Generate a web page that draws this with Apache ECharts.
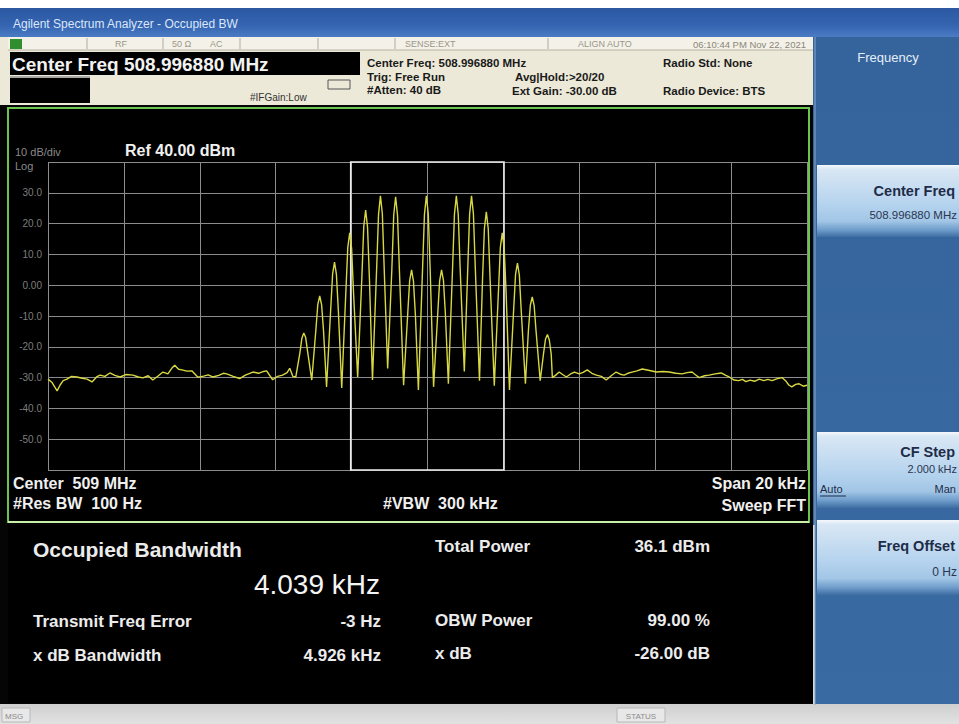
<!DOCTYPE html>
<html><head><meta charset="utf-8">
<script src="https://cdn.jsdelivr.net/npm/echarts@6/dist/echarts.min.js"></script>
<style>html,body{margin:0;padding:0;background:#fff;}#c{width:959px;height:724px;}</style>
</head><body><div id="c"></div>
<script>
// ---- data (frequency offset from centre in kHz, level in dBm) ----
const spanKHz = [-10, 10];
const freqTickKHz = 2;
const levelRangeDbm = [-60, 40];
const levelTickDb = 10;
const obwEdgesKHz = [-2.023, 2.016];

const noiseLeft = [
  [-10.0,-30.5],[-9.9,-31.5],[-9.76,-34.3],[-9.68,-32.4],[-9.6,-31.0],[-9.5,-30.5],[-9.38,-29.6],
  [-9.24,-29.8],[-9.1,-30.2],[-8.97,-30.5],[-8.84,-31.4],[-8.72,-29.8],[-8.63,-29.2],[-8.5,-29.6],
  [-8.37,-28.5],[-8.24,-29.3],[-8.1,-29.8],[-7.95,-29.0],[-7.76,-29.2],[-7.62,-29.8],[-7.5,-30.1],
  [-7.36,-29.4],[-7.24,-30.8],[-7.1,-29.5],[-6.97,-28.2],[-6.84,-28.8],[-6.74,-27.0],[-6.66,-26.0],
  [-6.56,-27.3],[-6.47,-27.5],[-6.34,-27.9],[-6.21,-27.8],[-6.05,-29.9],[-5.9,-29.5],[-5.78,-29.1],
  [-5.66,-29.8],[-5.5,-29.3],[-5.38,-28.6],[-5.29,-28.8],[-5.12,-29.6],[-4.95,-30.3],[-4.8,-29.2],
  [-4.6,-28.2],[-4.45,-28.6],[-4.32,-28.0],[-4.24,-27.8],[-4.08,-30.7],[-3.95,-29.6],[-3.82,-29.2],
  [-3.7,-28.4],[-3.63,-27.0],[-3.55,-29.6],[-3.47,-29.8]
];
const signalBand = [
  [-3.36,-21.8],[-3.31,-17.2],[-3.26,-15.5],[-3.21,-17.0],[-3.16,-21.5],[-3.05,-30.8],
  [-2.94,-14.3],[-2.89,-6.2],[-2.84,-3.5],[-2.79,-6.4],[-2.74,-14.8],[-2.66,-33.0],
  [-2.55,-7.7],[-2.50,3.7],[-2.45,7.5],[-2.40,3.5],[-2.35,-8.0],[-2.26,-33.4],
  [-2.15,-1.8],[-2.10,12.3],[-2.05,17.0],[-2.00,12.0],[-1.95,-2.2],[-1.84,-29.8],
  [-1.73,2.4],[-1.68,19.0],[-1.63,24.4],[-1.58,18.8],[-1.53,2.0],[-1.45,-30.8],
  [-1.34,5.4],[-1.29,23.0],[-1.24,29.0],[-1.19,23.2],[-1.14,5.0],[-1.05,-27.0],
  [-0.94,5.0],[-0.89,22.8],[-0.84,28.7],[-0.79,22.6],[-0.74,4.8],[-0.63,-32.5],
  [-0.52,-9.0],[-0.47,1.5],[-0.42,5.0],[-0.37,1.3],[-0.32,-9.4],[-0.24,-34.0],
  [-0.13,5.4],[-0.08,23.0],[-0.03,29.0],[0.02,23.2],[0.07,5.2],[0.16,-33.0],
  [0.27,-9.2],[0.32,1.4],[0.37,5.0],[0.42,1.6],[0.47,-9.0],[0.55,-32.0],
  [0.66,5.4],[0.71,23.0],[0.76,29.0],[0.81,23.0],[0.86,5.6],[0.97,-28.0],
  [1.06,5.2],[1.11,23.0],[1.16,29.0],[1.21,23.1],[1.26,5.4],[1.37,-31.0],
  [1.45,2.0],[1.50,18.5],[1.55,23.8],[1.60,18.4],[1.65,1.8],[1.76,-32.6],
  [1.87,-1.8],[1.92,12.3],[1.97,17.0],[2.02,12.1],[2.07,-2.0],[2.16,-34.0],
  [2.27,-8.0],[2.32,3.5],[2.37,7.2],[2.42,3.3],[2.47,-8.3],[2.58,-32.0],
  [2.66,-14.5],[2.71,-6.5],[2.76,-3.8],[2.81,-6.6],[2.86,-14.8],[2.97,-31.0],
  [3.06,-22.0],[3.11,-17.5],[3.16,-16.0],[3.21,-17.8],[3.26,-22.4],[3.29,-30.0]
];
const noiseRight = [
  [3.38,-29.2],[3.47,-28.2],[3.56,-29.0],[3.66,-29.8],[3.76,-28.9],[3.87,-28.2],[4.0,-28.8],
  [4.1,-28.3],[4.21,-27.5],[4.33,-28.6],[4.45,-29.2],[4.58,-29.6],[4.71,-30.8],[4.84,-29.4],
  [4.97,-28.2],[5.08,-28.9],[5.18,-29.2],[5.28,-28.6],[5.39,-28.2],[5.52,-27.8],[5.66,-27.2],
  [5.82,-27.6],[6.03,-28.2],[6.2,-28.0],[6.37,-28.2],[6.54,-28.6],[6.71,-28.8],[6.84,-28.4],
  [6.97,-28.2],[7.05,-29.0],[7.16,-30.0],[7.3,-29.4],[7.42,-29.2],[7.58,-28.8],[7.74,-28.5],
  [7.86,-29.3],[7.95,-29.8],[8.08,-30.8],[8.2,-31.0],[8.3,-30.6],[8.39,-31.3],[8.5,-30.8],
  [8.62,-31.2],[8.74,-30.5],[8.86,-31.0],[8.97,-30.6],[9.08,-31.0],[9.2,-30.4],[9.34,-30.0],
  [9.45,-31.2],[9.52,-32.4],[9.6,-33.0],[9.7,-32.2],[9.79,-32.0],[9.9,-32.8],[10.0,-32.5]
];
const trace = noiseLeft.concat(signalBand, noiseRight);

// ---- drawing ----
const F = '"Liberation Sans", Arial, Helvetica, sans-serif';
function R(x, y, w, h, fill, extra) {
  return Object.assign({ type: 'rect', silent: true, z: -100, shape: { x: x, y: y, width: w, height: h }, style: { fill: fill } }, extra || {});
}
function T(x, y, t, size, color, o) {
  o = o || {};
  return { type: 'text', silent: true, z: 100, x: x, y: y,
    style: { text: t, fill: color, font: (o.w || 'normal') + ' ' + size + 'px ' + F,
      align: o.a || 'left', verticalAlign: 'middle' } };
}
function L(x1, y1, x2, y2, c, w, z) {
  return { type: 'line', silent: true, z: z == null ? -90 : z, shape: { x1: x1, y1: y1, x2: x2, y2: y2 }, style: { stroke: c, lineWidth: w || 1 } };
}
function grad(stops) {
  return new echarts.graphic.LinearGradient(0, 0, 0, 1, stops.map(function (s) { return { offset: s[0], color: s[1] }; }));
}
const btnFill = function () {
  return grad([[0, '#f4f8fc'], [0.06, '#d9e7f4'], [0.55, '#b5d3ee'], [0.78, '#a2c6e6'], [0.9, '#6f9dcb'], [1, '#3e6da3']]);
};

const g = [
  R(0, 8, 959, 29, grad([[0, '#2c58a2'], [0.6, '#3564b0'], [1, '#4a7cc4']])),
  T(13, 24, 'Agilent Spectrum Analyzer - Occupied BW', 12, '#dce6fa'),
  R(0, 37, 813, 71, '#ece9d8'),
  R(8, 37, 805, 13, '#f3f1e8'),
  L(8, 50, 813, 50, '#b8b4a4', 1),
  R(10, 39, 12, 10, '#2f8f2f', { z: -80 }),
  L(87, 38, 87, 49, '#b0ac9c'), L(163, 38, 163, 49, '#b0ac9c'), L(240, 38, 240, 49, '#b0ac9c'),
  L(318, 38, 318, 49, '#b0ac9c'), L(395, 38, 395, 49, '#b0ac9c'), L(548, 38, 548, 49, '#b0ac9c'),
  T(115, 44, 'RF', 9, '#9a9688'), T(172, 44, '50 Ω', 9, '#9a9688'), T(210, 44, 'AC', 9, '#9a9688'),
  T(405, 44, 'SENSE:EXT', 9, '#9a9688'), T(578, 44, 'ALIGN AUTO', 9, '#9a9688'),
  T(806, 44, '06:10:44 PM Nov 22, 2021', 9.5, '#8a8678', { a: 'right' }),
  R(10, 52, 350, 23, '#000'),
  T(12, 64, 'Center Freq 508.996880 MHz', 19, '#f2f2f2', { w: 'bold' }),
  R(10, 76, 80, 2, '#a8a8a8', { z: -80 }),
  R(10, 78, 80, 25, '#000', { z: -80 }),
  T(250, 97, '#IFGain:Low', 10, '#333'),
  R(328, 80, 22, 9, '#ece9d8', { z: -80, style: { fill: '#ece9d8', stroke: '#555', lineWidth: 1 } }),
  T(367, 63, 'Center Freq: 508.996880 MHz', 11.5, '#1a1a1a', { w: 'bold' }),
  T(367, 77, 'Trig: Free Run', 11.5, '#1a1a1a', { w: 'bold' }),
  T(367, 90, '#Atten: 40 dB', 11.5, '#1a1a1a', { w: 'bold' }),
  T(515, 77, 'Avg|Hold:>20/20', 11.5, '#1a1a1a', { w: 'bold' }),
  T(512, 91, 'Ext Gain: -30.00 dB', 11.5, '#1a1a1a', { w: 'bold' }),
  T(663, 63, 'Radio Std: None', 11.5, '#1a1a1a', { w: 'bold' }),
  T(663, 91, 'Radio Device: BTS', 11.5, '#1a1a1a', { w: 'bold' }),
  // plot panel
  R(0, 105, 813, 600, '#050505'),
  R(8, 108, 801, 414, '#000', { style: { fill: '#000', stroke: '#6cc44e', lineWidth: 2 } }),
  L(8, 522, 809, 522, '#c8f0a8', 2, -80),
  T(15, 152, '10 dB/div', 11, '#8a8a8a'),
  T(125, 150, 'Ref 40.00 dBm', 16, '#f0f0f0', { w: 'bold' }),
  T(15, 166, 'Log', 11, '#8a8a8a'),
  T(13, 483, 'Center  509 MHz', 16, '#f0f0f0', { w: 'bold' }),
  T(13, 503, '#Res BW  100 Hz', 16, '#f0f0f0', { w: 'bold' }),
  T(383, 503, '#VBW  300 kHz', 16, '#f0f0f0', { w: 'bold' }),
  T(806, 483, 'Span 20 kHz', 16, '#f0f0f0', { w: 'bold', a: 'right' }),
  T(806, 505, 'Sweep FFT', 16, '#f0f0f0', { w: 'bold', a: 'right' }),
  // results
  R(8, 525, 805, 178, '#000'),
  L(814, 525, 814, 704, '#d8d8d8', 2, -80),
  T(33, 549, 'Occupied Bandwidth', 21, '#ececec', { w: 'bold' }),
  T(380, 584, '4.039 kHz', 28, '#f4f4f4', { a: 'right' }),
  T(33, 621, 'Transmit Freq Error', 17, '#ececec', { w: 'bold' }),
  T(381, 621, '-3 Hz', 17, '#ececec', { w: 'bold', a: 'right' }),
  T(33, 655, 'x dB Bandwidth', 17, '#ececec', { w: 'bold' }),
  T(381, 655, '4.926 kHz', 17, '#ececec', { w: 'bold', a: 'right' }),
  T(435, 546, 'Total Power', 17, '#ececec', { w: 'bold' }),
  T(710, 546, '36.1 dBm', 17, '#ececec', { w: 'bold', a: 'right' }),
  T(435, 620, 'OBW Power', 17, '#ececec', { w: 'bold' }),
  T(710, 620, '99.00 %', 17, '#ececec', { w: 'bold', a: 'right' }),
  T(435, 653, 'x dB', 17, '#ececec', { w: 'bold' }),
  T(710, 653, '-26.00 dB', 17, '#ececec', { w: 'bold', a: 'right' }),
  // softkey panel
  R(813, 37, 146, 668, grad([[0, '#35649c'], [1, '#3a6aa2']])),
  L(815, 37, 815, 705, '#8aa8c8', 1, -80),
  T(888, 57, 'Frequency', 13, '#e6eef8', { a: 'center' }),
  R(817, 165, 142, 72, btnFill(), { z: -80 }),
  T(955, 191, 'Center Freq', 14.5, '#1e2c48', { w: 'bold', a: 'right' }),
  T(957, 215, '508.996880 MHz', 11.5, '#2a3650', { a: 'right' }),
  R(817, 432, 142, 76, btnFill(), { z: -80 }),
  T(955, 452, 'CF Step', 14.5, '#1e2c48', { w: 'bold', a: 'right' }),
  T(957, 469, '2.000 kHz', 11, '#2a3650', { a: 'right' }),
  T(820, 489, 'Auto', 11, '#1e2c48'),
  L(820, 496, 846, 496, '#1e2c48', 1, 100),
  T(956, 489, 'Man', 11, '#1e2c48', { a: 'right' }),
  R(817, 520, 142, 75, btnFill(), { z: -80 }),
  T(955, 546, 'Freq Offset', 14.5, '#1e2c48', { w: 'bold', a: 'right' }),
  T(957, 572, '0 Hz', 12, '#2a3650', { a: 'right' }),
  // bottom status bar
  R(0, 704, 959, 20, grad([[0, '#cfcfcf'], [1, '#e2e2e2']])),
  R(2, 708, 28, 14, '#e8e8e8', { z: -80, style: { fill: '#e8e8e8', stroke: '#b8b8b8', lineWidth: 1 } }),
  T(5, 716, 'MSG', 8, '#8a8a8a'),
  R(617, 708, 48, 14, '#e8e8e8', { z: -80, style: { fill: '#e8e8e8', stroke: '#b8b8b8', lineWidth: 1 } }),
  T(641, 716, 'STATUS', 8, '#8a8a8a', { a: 'center' })
];

const chart = echarts.init(document.getElementById('c'), null, { renderer: 'svg' });
chart.setOption({
  animation: false,
  backgroundColor: '#ffffff',
  graphic: g,
  grid: { left: 48, top: 162, width: 759, height: 308, containLabel: false },
  xAxis: {
    type: 'value', min: spanKHz[0], max: spanKHz[1], interval: freqTickKHz,
    axisLine: { show: false }, axisTick: { show: false }, axisLabel: { show: false },
    splitLine: { show: true, showMinLine: true, showMaxLine: true, lineStyle: { color: '#8c8c8c', width: 1 } }
  },
  yAxis: {
    type: 'value', min: levelRangeDbm[0], max: levelRangeDbm[1], interval: levelTickDb,
    axisLine: { show: false }, axisTick: { show: false },
    axisLabel: {
      color: '#7e7e7e', fontSize: 10, fontFamily: F, margin: 6,
      formatter: function (v) {
        if (v === levelRangeDbm[1] || v === levelRangeDbm[0]) return '';
        return v === 0 ? '0.00' : v.toFixed(1);
      }
    },
    splitLine: { show: true, showMinLine: true, showMaxLine: true, lineStyle: { color: '#8c8c8c', width: 1 } }
  },
  series: [{
    type: 'line', data: trace, showSymbol: false, symbol: 'none',
    lineStyle: { color: '#d8d842', width: 1.4 }, z: 5,
    markArea: {
      silent: true,
      itemStyle: { color: 'rgba(0,0,0,0)', borderColor: '#ededed', borderWidth: 1.6 },
      data: [[{ xAxis: obwEdgesKHz[0], yAxis: levelRangeDbm[1] }, { xAxis: obwEdgesKHz[1], yAxis: levelRangeDbm[0] }]]
    }
  }]
});
</script>
</body></html>
